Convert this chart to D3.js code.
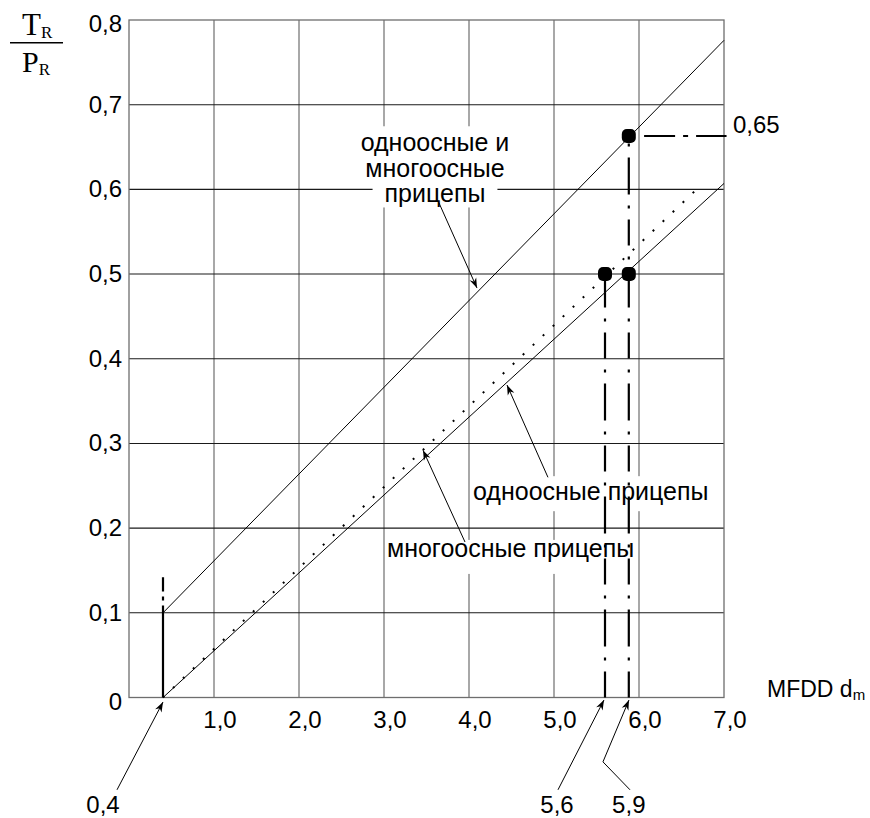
<!DOCTYPE html>
<html>
<head>
<meta charset="utf-8">
<script src="https://cdn.jsdelivr.net/npm/d3@7"></script>
<style>
  body { margin: 0; background: #fff; }
  svg { display: block; }
  text { font-family: "Liberation Sans", Arial, sans-serif; fill: #000; }
</style>
</head>
<body>
<div id="chart"></div>
<script>
// axis ticks
const xTicks = [1, 2, 3, 4, 5, 6, 7];
const xTickLabels = ["1,0", "2,0", "3,0", "4,0", "5,0", "6,0", "7,0"];
const yTicks = [0, 0.1, 0.2, 0.3, 0.4, 0.5, 0.6, 0.7, 0.8];
const yTickLabels = ["0", "0,1", "0,2", "0,3", "0,4", "0,5", "0,6", "0,7", "0,8"];

// series (MFDD, TR/PR)
const lineBoth = [{x: 0.4, y: 0.1}, {x: 7.0, y: 0.776}];
const lineSingle = [{x: 0.4, y: 0}, {x: 7.0, y: 0.607}];
const lineMulti = [{x: 0.4, y: 0}, {x: 6.72, y: 0.604}];
const points = [{x: 5.6, y: 0.5}, {x: 5.88, y: 0.5}, {x: 5.88, y: 0.663}];

// dash-dot reference lines
const guides = [
  {pts: [{x: 0.4, y: 0}, {x: 0.4, y: 0.142}], dash: "92,5,4,5,40"},
  {pts: [{x: 5.6, y: 0}, {x: 5.6, y: 0.5}], dash: "26,11,3,11,37,11,3,11"},
  {pts: [{x: 5.88, y: 0}, {x: 5.88, y: 0.663}], dash: "26,11,3,11,37,11,3,11"},
  {pts: [{x: 6.06, y: 0.663}, {x: 7.03, y: 0.663}], dash: "31,8,5,8"}
];

// annotation arrows (tail ... head)
const arrows = [
  [{x: 3.647, y: 0.584}, {x: 4.094, y: 0.4835}],
  [{x: 4.929, y: 0.260}, {x: 4.447, y: 0.369}],
  [{x: 3.953, y: 0.1836}, {x: 3.459, y: 0.292}],
  [{x: -0.141, y: -0.109}, {x: 0.4, y: -0.0053}],
  [{x: 5.047, y: -0.109}, {x: 5.588, y: -0.003}],
  [{x: 5.894, y: -0.109}, {x: 5.576, y: -0.076}, {x: 5.882, y: -0.003}]
];

const labelBoth = ["одноосные и", "многоосные", "прицепы"];
const labelSingle = "одноосные прицепы";
const labelMulti = "многоосные прицепы";
const valueLabels = [
  {text: "0,4", x: -0.306, y: -0.1365, anchor: "middle"},
  {text: "5,6", x: 5.035, y: -0.1365, anchor: "middle"},
  {text: "5,9", x: 5.88, y: -0.1365, anchor: "middle"},
  {text: "0,65", x: 7.106, y: 0.6665, anchor: "start"}
];

const width = 870, height = 818;

const svg = d3.select("#chart")
  .append("svg")
  .attr("width", width)
  .attr("height", height);

const x = d3.scaleLinear().domain([0, 7]).range([129, 724]);
const y = d3.scaleLinear().domain([0, 0.8]).range([697.5, 20]);

const line = d3.line().x(d => x(d.x)).y(d => y(d.y));

svg.append("defs").append("marker")
  .attr("id", "arrow")
  .attr("markerUnits", "userSpaceOnUse")
  .attr("viewBox", "-11 -5 12 10")
  .attr("refX", 0)
  .attr("refY", 0)
  .attr("markerWidth", 12)
  .attr("markerHeight", 10)
  .attr("orient", "auto")
  .append("path")
  .attr("d", "M0,0 L-10,-3.6 L-7,0 L-10,3.6 Z")
  .attr("fill", "#000");

// grid: vertical gray, horizontal black
svg.append("g")
  .selectAll("line")
  .data(xTicks.slice(0, -1)).enter()
  .append("line")
  .attr("x1", d => x(d)).attr("x2", d => x(d))
  .attr("y1", y(0)).attr("y2", y(0.8))
  .attr("stroke", "#6e6e6e")
  .attr("stroke-width", 1.2);

svg.append("g")
  .selectAll("line")
  .data(yTicks.slice(1, -1)).enter()
  .append("line")
  .attr("x1", x(0)).attr("x2", x(7))
  .attr("y1", d => y(d)).attr("y2", d => y(d))
  .attr("stroke", "#1a1a1a")
  .attr("stroke-width", 1.1);

svg.append("rect")
  .attr("x", x(0)).attr("y", y(0.8))
  .attr("width", x(7) - x(0)).attr("height", y(0) - y(0.8))
  .attr("fill", "none")
  .attr("stroke", "#6e6e6e")
  .attr("stroke-width", 1.3);

// tick labels
svg.append("g")
  .selectAll("text")
  .data(yTicks).enter()
  .append("text")
  .attr("x", 122)
  .attr("y", (d, i) => y(d) + (i === 0 || i === yTicks.length - 1 ? 12 : 8))
  .attr("text-anchor", "end")
  .attr("font-size", 24)
  .text((d, i) => yTickLabels[i]);

svg.append("g")
  .selectAll("text")
  .data(xTicks).enter()
  .append("text")
  .attr("x", d => x(d) + 6)
  .attr("y", y(0) + 30.5)
  .attr("text-anchor", "middle")
  .attr("font-size", 24)
  .text((d, i) => xTickLabels[i]);

// series lines
svg.append("path").datum(lineBoth)
  .attr("d", line).attr("fill", "none")
  .attr("stroke", "#000").attr("stroke-width", 1);

svg.append("path").datum(lineSingle)
  .attr("d", line).attr("fill", "none")
  .attr("stroke", "#000").attr("stroke-width", 1);

svg.append("path").datum(lineMulti)
  .attr("d", line).attr("fill", "none")
  .attr("stroke", "#000").attr("stroke-width", 2)
  .attr("stroke-dasharray", "2,11.8");

// labels with white boxes behind
function boxedText(g, str, tx, ty, anchor, padX, padTop, padBottom) {
  const t = g.append("text")
    .attr("x", tx).attr("y", ty)
    .attr("text-anchor", anchor)
    .attr("font-size", 25)
    .text(str);
  const b = t.node().getBBox();
  g.insert("rect", "text")
    .attr("x", b.x - padX).attr("y", b.y - padTop)
    .attr("width", b.width + 2 * padX).attr("height", b.height + padTop + padBottom)
    .attr("fill", "#fff");
}

const labels = svg.append("g");
labelBoth.forEach((s, i) => {
  boxedText(labels, s, x(3.6), y(0.645) + i * 25.6, "middle", i === 2 ? 12 : 2, 2, 0);
});
boxedText(labels, labelSingle, x(4.047), y(0.233), "start", 1, 1, 6);
boxedText(labels, labelMulti, x(3.035), y(0.166), "start", -12, -6, 12);

// dash-dot guides
svg.append("g")
  .selectAll("path")
  .data(guides).enter()
  .append("path")
  .attr("d", d => line(d.pts))
  .attr("fill", "none")
  .attr("stroke", "#000")
  .attr("stroke-width", 2.2)
  .attr("stroke-dasharray", d => d.dash);

// points
svg.append("g")
  .selectAll("rect")
  .data(points).enter()
  .append("rect")
  .attr("x", d => x(d.x) - 7)
  .attr("y", d => y(d.y) - 7)
  .attr("width", 14).attr("height", 14)
  .attr("rx", 5)
  .attr("fill", "#000");

// arrows
svg.append("g")
  .selectAll("path")
  .data(arrows).enter()
  .append("path")
  .attr("d", d3.line().x(d => x(d.x)).y(d => y(d.y)))
  .attr("fill", "none")
  .attr("stroke", "#000")
  .attr("stroke-width", 1)
  .attr("marker-end", "url(#arrow)");

// value labels
svg.append("g")
  .selectAll("text")
  .data(valueLabels).enter()
  .append("text")
  .attr("x", d => x(d.x))
  .attr("y", d => y(d.y))
  .attr("text-anchor", d => d.anchor)
  .attr("font-size", 24)
  .text(d => d.text);

// x axis title
const xt = svg.append("text")
  .attr("x", x(7.506)).attr("y", y(0.0006))
  .attr("font-size", 23);
xt.append("tspan").text("MFDD d");
xt.append("tspan").attr("font-size", 15).attr("dy", 3).text("m");

// y axis title: TR / PR
const serif = "'Liberation Serif', 'Times New Roman', serif";
const yt1 = svg.append("text").attr("x", 22).attr("y", 35)
  .style("font-family", serif).attr("font-size", 31);
yt1.append("tspan").text("T");
yt1.append("tspan").attr("font-size", 17).attr("dy", 3).text("R");

svg.append("line")
  .attr("x1", 10).attr("x2", 63)
  .attr("y1", 42.7).attr("y2", 42.7)
  .attr("stroke", "#000").attr("stroke-width", 1.6);

const yt2 = svg.append("text").attr("x", 22).attr("y", 72)
  .style("font-family", serif).attr("font-size", 30);
yt2.append("tspan").text("P");
yt2.append("tspan").attr("font-size", 17).attr("dy", 3).text("R");
</script>
</body>
</html>
